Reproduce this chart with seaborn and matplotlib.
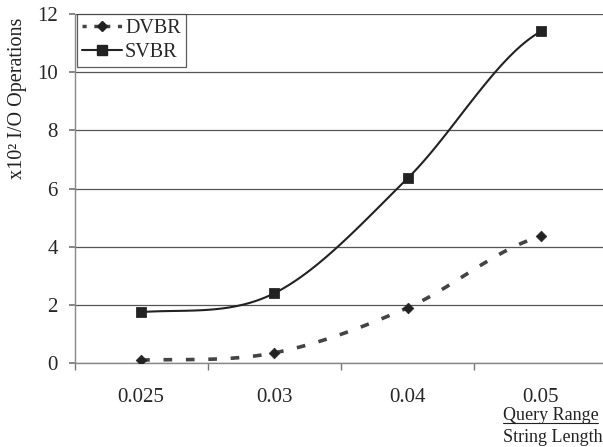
import numpy as np
import pandas as pd
import matplotlib
matplotlib.use("Agg")
import matplotlib.pyplot as plt
import seaborn as sns
from matplotlib.lines import Line2D

categories = ["0.025", "0.03", "0.04", "0.05"]
dvbr = [0.1, 0.35, 1.9, 4.35]
svbr = [1.75, 2.4, 6.35, 11.4]
yticks = [0, 2, 4, 6, 8, 10, 12]

sns.set_theme(style="white")
plt.rcParams['font.family'] = ['Liberation Serif', 'DejaVu Serif']

def smooth(xs, ys, n=40, t=0.5):
    xs = np.asarray(xs, float); ys = np.asarray(ys, float)
    px = np.concatenate([[2*xs[0]-xs[1]], xs, [2*xs[-1]-xs[-2]]])
    py = np.concatenate([[ys[0]], ys, [ys[-1]]])
    ox, oy = [], []
    for i in range(1, len(px)-2):
        p0, p1, p2, p3 = [np.array([px[j], py[j]]) for j in (i-1, i, i+1, i+2)]
        m1 = t*(p2-p0); m2 = t*(p3-p1)
        for s in np.linspace(0, 1, n, endpoint=(i == len(px)-3)):
            h00 = 2*s**3-3*s**2+1; h10 = s**3-2*s**2+s
            h01 = -2*s**3+3*s**2; h11 = s**3-s**2
            p = h00*p1 + h10*m1 + h01*p2 + h11*m2
            ox.append(p[0]); oy.append(p[1])
    return np.array(ox), np.array(oy)

fig = plt.figure(figsize=(6.03, 4.47), dpi=100)
ax = fig.add_axes([74.5/603, 1-363/447, 533/603, 349/447])

x = np.arange(len(categories))
sx, sy = smooth(x, svbr)
dx, dy = smooth(x, dvbr)
sns.lineplot(x=sx, y=sy, ax=ax, color="#222222", lw=1.5, sort=False)
sns.lineplot(x=dx, y=dy, ax=ax, color="#444444", lw=2.6, sort=False,
             dashes=False, linestyle=(0, (2.4, 3.8)))
sns.scatterplot(x=x, y=svbr, ax=ax, marker="s", s=50, color="#222222", edgecolor="#222222", zorder=5)
sns.scatterplot(x=x, y=dvbr, ax=ax, marker="D", s=30, color="#222222", edgecolor="#222222", zorder=5)

ax.set_xlim(-0.5, 3.5)
ax.set_ylim(0, 12)
ax.set_yticks(yticks)
ax.set_yticklabels([str(v) for v in yticks], fontsize=15)
ax.yaxis.grid(True, color="#555555", lw=0.9)
ax.set_axisbelow(True)
ax.set_xticks(x)
ax.set_xticklabels(categories, fontsize=15)
ax.set_xticks(np.arange(-0.5, 3.6, 1), minor=True)
ax.tick_params(axis="x", which="major", length=0, pad=18)
ax.tick_params(axis="x", which="minor", length=5, color="#777777", direction="out", bottom=True)
ax.tick_params(axis="y", length=4, color="#777777", direction="out", left=True, pad=8)
for s in ["top", "right"]:
    ax.spines[s].set_visible(False)
for s in ["left", "bottom"]:
    ax.spines[s].set_color("#888888")
    ax.spines[s].set_linewidth(1.0)

fig.text(18/603, 1-98/447, "x10\u00b2 I/O Operations", fontsize=14.5, rotation=90,
         ha="center", va="center", color="#222222")

handles = [Line2D([], [], color="#444444", lw=2.5, linestyle=(0, (1.2, 2.2)), marker="D", markersize=5,
                  markerfacecolor="#222222", markeredgecolor="#222222"),
           Line2D([], [], color="#222222", lw=1.5, marker="s", markersize=7, markerfacecolor="#222222")]
leg = ax.legend(handles, ["DVBR", "SVBR"], loc="upper left", bbox_to_anchor=(0.004, 1.0),
                fontsize=14.5, frameon=True, fancybox=False, edgecolor="#333333",
                handlelength=2.0, handletextpad=0.15, borderpad=0.25, labelspacing=0.25, borderaxespad=0.0)
leg.get_frame().set_linewidth(0.9)

fig.text(503/603, 1-415/447, "Query Range", fontsize=13, ha="left", va="center", color="#222222")
fig.add_artist(Line2D([503/603, 598/603], [1-423/447, 1-423/447], color="#222222", lw=0.8))
fig.text(503/603, 1-437/447, "String Length", fontsize=13, ha="left", va="center", color="#222222")

fig.savefig("out.png", dpi=100)
